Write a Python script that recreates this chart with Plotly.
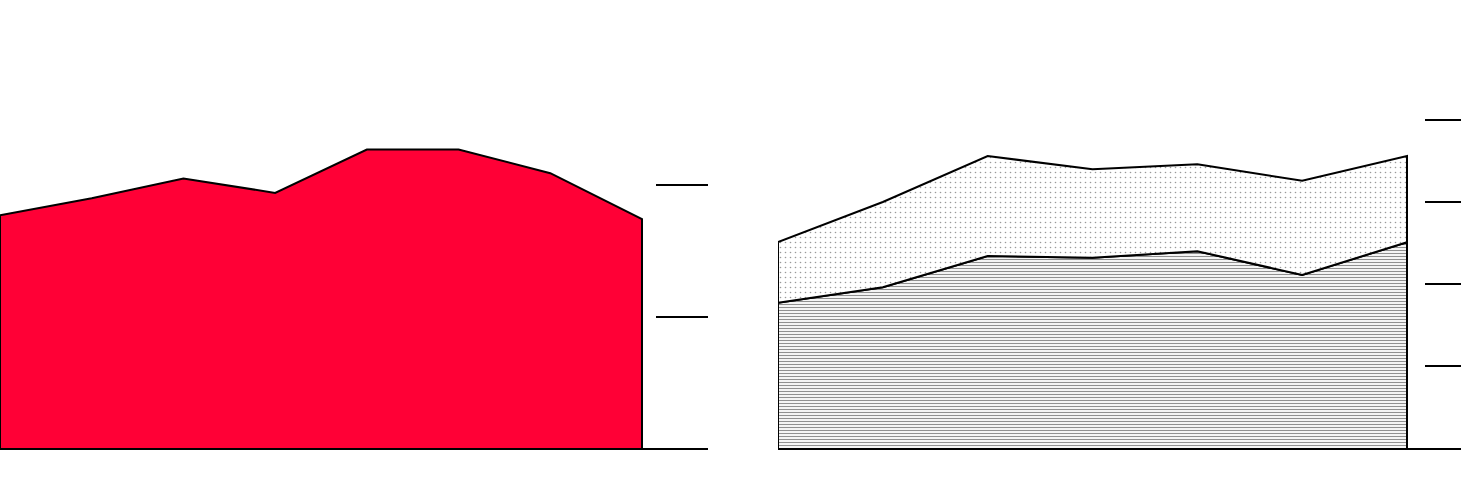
import numpy as np
import plotly.graph_objects as go
from plotly.subplots import make_subplots

# Left chart: single series
left_x = [0, 1, 2, 3, 4, 5, 6, 7]
left_values = [17.7, 19.0, 20.5, 19.4, 22.7, 22.7, 20.9, 17.4]
left_ticks = [0, 10, 20]

# Right chart: two stacked series
right_x = [0, 1, 2, 3, 4, 5, 6]
right_lower = [17.7, 19.6, 23.4, 23.2, 24.0, 21.1, 25.1]
right_upper = [7.4, 10.4, 12.2, 10.8, 10.6, 11.5, 10.5]
right_ticks = [0, 10, 20, 30, 40]

W, H = 1480, 488
ml, mr, mt, mb = 0, 19, 0, 40
plot_w = W - ml - mr
plot_h = H - mt - mb

fig = make_subplots(rows=1, cols=2)

# left polygon closed to the baseline
lx = [left_x[0]] + left_x + [left_x[-1]]
ly = [0] + left_values + [0]
fig.add_trace(go.Scatter(x=lx, y=ly, mode="lines", fill="toself",
                         fillcolor="#ff0036", line=dict(color="black", width=2),
                         hoverinfo="skip", showlegend=False), row=1, col=1)

lower = np.array(right_lower)
total = lower + np.array(right_upper)
rx = list(right_x)

# lower layer
bx = [rx[0]] + rx + [rx[-1]]
by = [0] + list(lower) + [0]
fig.add_trace(go.Scatter(x=bx, y=by, mode="lines", fill="toself",
                         fillcolor="white",
                         fillpattern=dict(shape="-", size=3, solidity=0.4,
                                          fgcolor="#222222", bgcolor="white"),
                         line=dict(color="black", width=2),
                         hoverinfo="skip", showlegend=False), row=1, col=2)
# upper layer
tx = rx + rx[::-1] + [rx[0]]
ty = list(total) + list(lower[::-1]) + [total[0]]
fig.add_trace(go.Scatter(x=tx, y=ty, mode="lines", fill="toself",
                         fillcolor="white",
                         fillpattern=dict(shape=".", size=5, solidity=0.08,
                                          fgcolor="#333333", bgcolor="white"),
                         line=dict(color="black", width=2),
                         hoverinfo="skip", showlegend=False), row=1, col=2)

# axis geometry
left_px = 708
right_start = 778
left_unit = 642 / (len(left_x) - 1)
right_unit = (1407 - 778) / (len(right_x) - 1)
left_step_px = 131.5
right_step_px = 82.0

fig.update_layout(
    width=W, height=H,
    margin=dict(l=ml, r=mr, t=mt, b=mb),
    paper_bgcolor="white", plot_bgcolor="white",
    showlegend=False,
    xaxis=dict(domain=[0, left_px / plot_w], range=[0, left_px / left_unit],
               showgrid=False, zeroline=False, showticklabels=False, ticks="",
               showline=True, linecolor="black", linewidth=2),
    xaxis2=dict(domain=[right_start / plot_w, 1],
                range=[0, (plot_w - right_start) / right_unit],
                showgrid=False, zeroline=False, showticklabels=False, ticks="",
                showline=True, linecolor="black", linewidth=2),
    yaxis=dict(range=[0, plot_h / left_step_px * 10], side="right",
               tickmode="array", tickvals=left_ticks, ticks="inside",
               ticklen=52, tickwidth=2, tickcolor="black",
               showticklabels=False, showgrid=False, zeroline=False, showline=False),
    yaxis2=dict(range=[0, plot_h / right_step_px * 10], side="right",
                tickmode="array", tickvals=right_ticks, ticks="inside",
                ticklen=36, tickwidth=2, tickcolor="black",
                showticklabels=False, showgrid=False, zeroline=False, showline=False),
)

fig.write_html("out.html",
               config={"displayModeBar": False},
               post_script="document.body.style.margin='0';document.body.style.padding='0';")
